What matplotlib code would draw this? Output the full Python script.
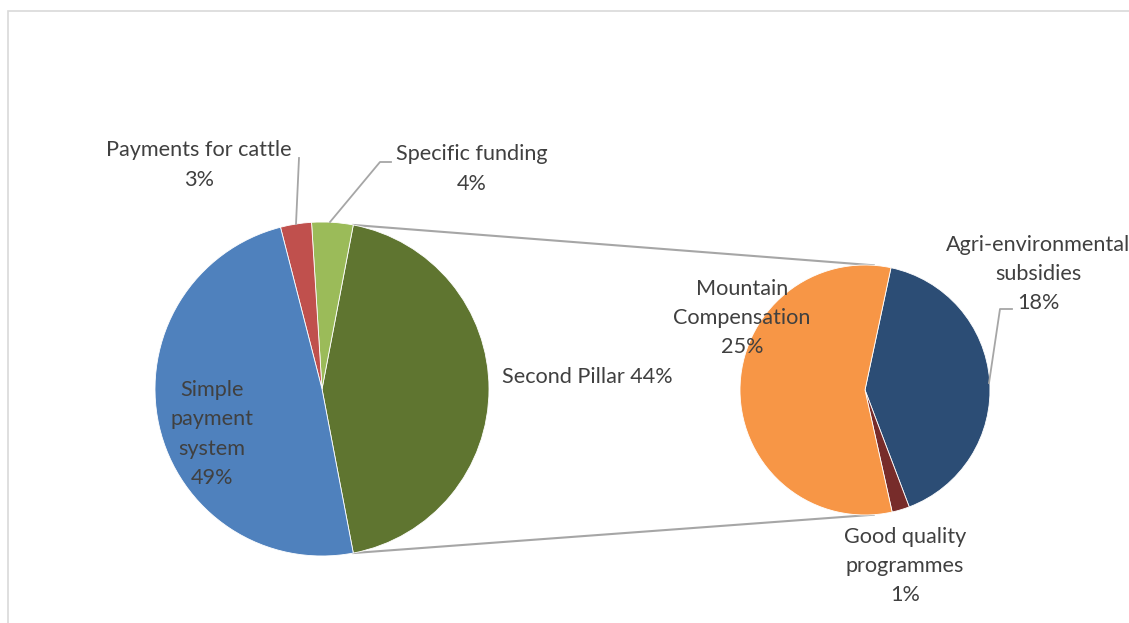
import matplotlib
matplotlib.use("Agg")
import matplotlib.pyplot as plt
from matplotlib.patches import Rectangle
import numpy as np

# Direct payments structure (share of total, %)
main_labels = ["Second Pillar", "Specific funding", "Payments for cattle", "Simple\npayment\nsystem"]
main_values = [44, 4, 3, 49]
main_colors = ["#5F7530", "#9BBB59", "#C0504D", "#4F81BD"]

# Breakdown of the Second Pillar (share of total, %)
sub_labels = ["Agri-environmental\nsubsidies", "Good quality\nprogrammes", "Mountain\nCompensation"]
sub_values = [18, 1, 25]
sub_colors = ["#2C4D75", "#772C2A", "#F79646"]

W, H = 1129, 623
fig = plt.figure(figsize=(W / 100, H / 100), dpi=100)
ax = fig.add_axes([0, 0, 1, 1])

TXT = "#404040"
FONT = ["Lato", "DejaVu Sans"]
FS = 15.6
GRAY = "#A6A6A6"

# chart area frame
ax.add_patch(Rectangle((8, -10), W + 20, H - 1, fill=False,
                       edgecolor="#D9D9D9", linewidth=1.2))

# main pie
c1 = (322, H - 389)
r1 = 167
start1 = -main_values[0] / sum(main_values) * 360 / 2
ax.pie(main_values, colors=main_colors, startangle=start1, counterclock=True,
       center=c1, radius=r1, frame=True,
       wedgeprops=dict(edgecolor="white", linewidth=0.6))

# secondary pie
c2 = (865, H - 390)
r2 = 125
ax.pie(sub_values, colors=sub_colors, startangle=78, counterclock=False,
       center=c2, radius=r2, frame=True,
       wedgeprops=dict(edgecolor="white", linewidth=0.6))

ax.set_xlim(0, W)
ax.set_ylim(0, H)
ax.set_aspect("equal")
ax.axis("off")

# connector lines between the Second Pillar slice and the secondary pie
half = np.deg2rad(-start1)
p_top = (c1[0] + r1 * np.cos(half), c1[1] + r1 * np.sin(half))
p_bot = (c1[0] + r1 * np.cos(half), c1[1] - r1 * np.sin(half))
q = np.deg2rad(86)
q_top = (c2[0] + r2 * np.cos(q), c2[1] + r2 * np.sin(q))
q_bot = (c2[0] + r2 * np.cos(q), c2[1] - r2 * np.sin(q))
ax.plot([p_top[0], q_top[0]], [p_top[1], q_top[1]], color=GRAY, lw=1.5, zorder=0.5)
ax.plot([p_bot[0], q_bot[0]], [p_bot[1], q_bot[1]], color=GRAY, lw=1.5, zorder=0.5)


def label(x, y, s, ha="center"):
    ax.text(x, H - y, s, ha=ha, va="center", color=TXT, fontsize=FS,
            family=FONT, linespacing=1.58)


# main pie labels
label(502, 377, f"{main_labels[0]} {main_values[0]}%", ha="left")
label(472, 169, f"{main_labels[1]}\n{main_values[1]}%")
label(199, 165, f"{main_labels[2]}\n{main_values[2]}%")
label(212, 434, f"{main_labels[3]}\n{main_values[3]}%")

# secondary pie labels
label(742, 318, f"{sub_labels[2]}\n{sub_values[2]}%")
label(1038, 274, f"{sub_labels[0]}\n{sub_values[0]}%")
label(905, 566, f"{sub_labels[1]}\n{sub_values[1]}%")


# leader lines
def leader(xs, ys):
    ax.plot(xs, [H - y for y in ys], color=GRAY, lw=1.3, zorder=3)


leader([296, 299], [224, 158])
leader([330, 380, 391], [222, 162, 162])
leader([989, 1000, 1012], [383, 309, 309])

fig.savefig("out.png", dpi=100)
